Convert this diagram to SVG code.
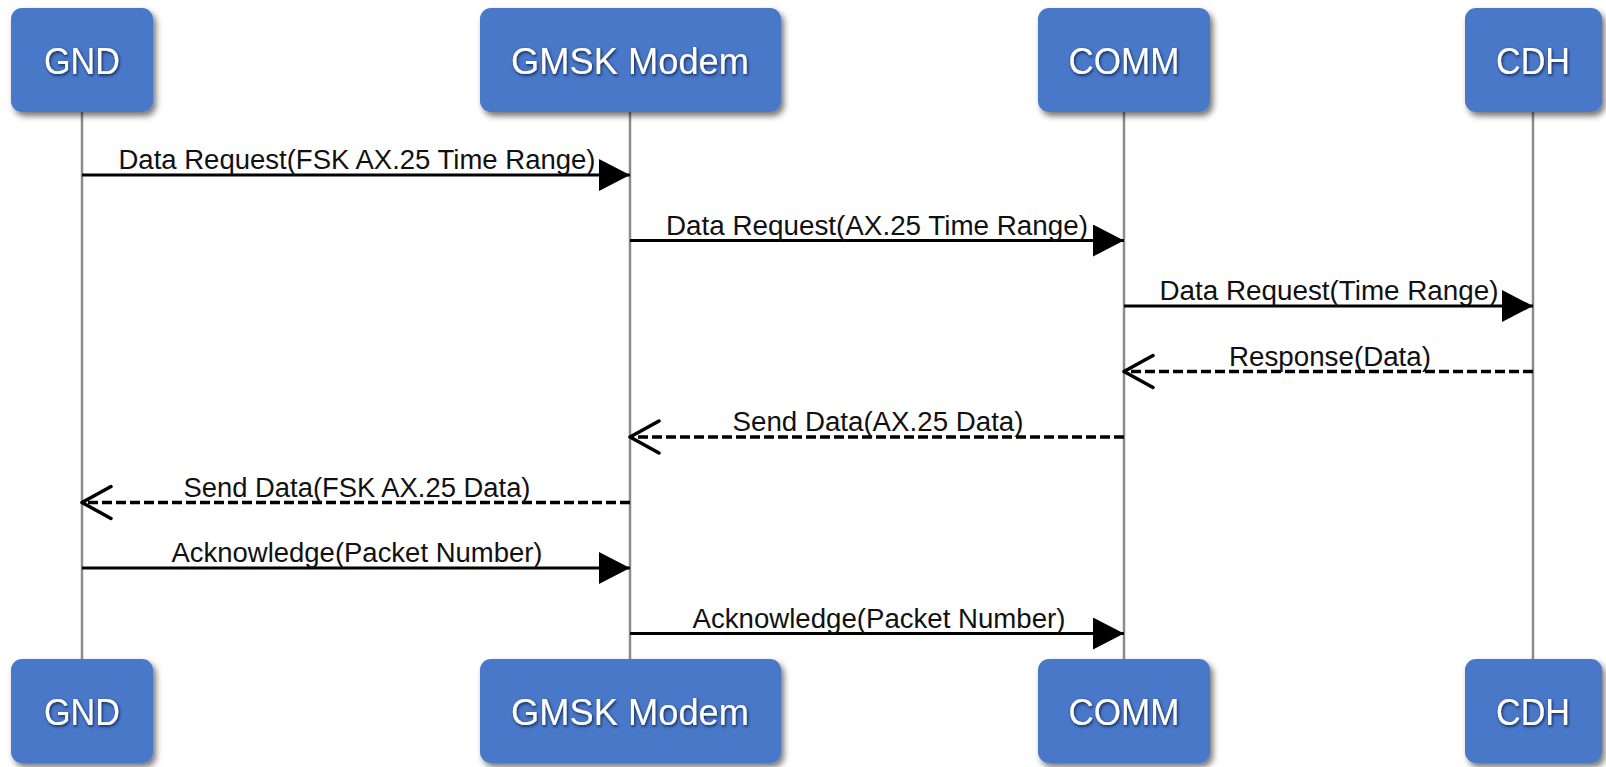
<svg xmlns="http://www.w3.org/2000/svg" width="1606" height="767" viewBox="0 0 1606 767">
  <style>
    .box { fill: #4a78c9; filter: url(#boxShadow); }
    .name { font-family: "Liberation Sans", Arial, sans-serif; font-size: 37px; fill: #ffffff; text-anchor: middle; filter: url(#textGlow); }
    .life { stroke: #8c8c8c; stroke-width: 2.5; fill: none; }
    .msg { stroke: #000000; stroke-width: 3; fill: none; }
    .sync { marker-end: url(#filledHead); }
    .reply { stroke-width: 3.5; stroke-dasharray: 10 4; marker-end: url(#openHead); }
    .label { font-family: "Liberation Sans", Arial, sans-serif; font-size: 27px; fill: #111111; text-anchor: middle; }
  </style>
  <defs>
    <filter id="boxShadow" x="-20%" y="-20%" width="150%" height="150%">
      <feDropShadow dx="3" dy="4" stdDeviation="3" flood-color="#000000" flood-opacity="0.55"/>
    </filter>
    <filter id="textGlow" x="-20%" y="-30%" width="140%" height="160%">
      <feDropShadow dx="1" dy="1.5" stdDeviation="1.5" flood-color="#0b1f4a" flood-opacity="0.95"/>
    </filter>
    <marker id="filledHead" markerUnits="userSpaceOnUse" markerWidth="32" markerHeight="34" refX="31" refY="16" orient="auto">
      <path d="M0,0 L31,16 L0,32 Z" fill="#000000" stroke="none"/>
    </marker>
    <marker id="openHead" markerUnits="userSpaceOnUse" markerWidth="36" markerHeight="40" refX="31" refY="18" orient="auto">
      <path d="M2,2 L31,18 L2,34" fill="none" stroke="#000000" stroke-width="3.5" stroke-dasharray="none" stroke-linejoin="round" stroke-linecap="round"/>
    </marker>
  </defs>

  <!-- lifelines -->
  <g id="lifelines">
    <line class="life" x1="82" y1="112" x2="82" y2="659"/>
    <line class="life" x1="630" y1="112" x2="630" y2="659"/>
    <line class="life" x1="1124" y1="112" x2="1124" y2="659"/>
    <line class="life" x1="1533" y1="112" x2="1533" y2="659"/>
  </g>

  <!-- participants, head and foot -->
  <g id="gnd">
    <rect class="box" x="11" y="8" width="142" height="104" rx="11"/>
    <text class="name" x="82" y="74" textLength="76" lengthAdjust="spacingAndGlyphs">GND</text>
    <rect class="box" x="11" y="659" width="142" height="104" rx="11"/>
    <text class="name" x="82" y="725" textLength="76" lengthAdjust="spacingAndGlyphs">GND</text>
  </g>
  <g id="gmsk-modem">
    <rect class="box" x="480" y="8" width="301" height="104" rx="11"/>
    <text class="name" x="630" y="74" textLength="238" lengthAdjust="spacingAndGlyphs">GMSK Modem</text>
    <rect class="box" x="480" y="659" width="301" height="104" rx="11"/>
    <text class="name" x="630" y="725" textLength="238" lengthAdjust="spacingAndGlyphs">GMSK Modem</text>
  </g>
  <g id="comm">
    <rect class="box" x="1038" y="8" width="172" height="104" rx="11"/>
    <text class="name" x="1124" y="74" textLength="111" lengthAdjust="spacingAndGlyphs">COMM</text>
    <rect class="box" x="1038" y="659" width="172" height="104" rx="11"/>
    <text class="name" x="1124" y="725" textLength="111" lengthAdjust="spacingAndGlyphs">COMM</text>
  </g>
  <g id="cdh">
    <rect class="box" x="1465" y="8" width="137" height="104" rx="11"/>
    <text class="name" x="1533" y="74" textLength="74" lengthAdjust="spacingAndGlyphs">CDH</text>
    <rect class="box" x="1465" y="659" width="137" height="104" rx="11"/>
    <text class="name" x="1533" y="725" textLength="74" lengthAdjust="spacingAndGlyphs">CDH</text>
  </g>

  <!-- messages -->
  <g id="connectors">
    <line class="msg sync" x1="82" y1="175" x2="630" y2="175"/>
    <text class="label" x="357" y="169" textLength="477" lengthAdjust="spacingAndGlyphs">Data Request(FSK AX.25 Time Range)</text>

    <line class="msg sync" x1="630" y1="240.5" x2="1124" y2="240.5"/>
    <text class="label" x="877" y="234.5" textLength="422" lengthAdjust="spacingAndGlyphs">Data Request(AX.25 Time Range)</text>

    <line class="msg sync" x1="1124" y1="306" x2="1533" y2="306"/>
    <text class="label" x="1329" y="300" textLength="339" lengthAdjust="spacingAndGlyphs">Data Request(Time Range)</text>

    <line class="msg reply" x1="1533" y1="371.5" x2="1124" y2="371.5"/>
    <text class="label" x="1330" y="365.5" textLength="202" lengthAdjust="spacingAndGlyphs">Response(Data)</text>

    <line class="msg reply" x1="1124" y1="437" x2="630" y2="437"/>
    <text class="label" x="878" y="431" textLength="291" lengthAdjust="spacingAndGlyphs">Send Data(AX.25 Data)</text>

    <line class="msg reply" x1="630" y1="502.5" x2="82" y2="502.5"/>
    <text class="label" x="357" y="496.5" textLength="347" lengthAdjust="spacingAndGlyphs">Send Data(FSK AX.25 Data)</text>

    <line class="msg sync" x1="82" y1="568" x2="630" y2="568"/>
    <text class="label" x="357" y="562" textLength="371" lengthAdjust="spacingAndGlyphs">Acknowledge(Packet Number)</text>

    <line class="msg sync" x1="630" y1="633.5" x2="1124" y2="633.5"/>
    <text class="label" x="879" y="627.5" textLength="373" lengthAdjust="spacingAndGlyphs">Acknowledge(Packet Number)</text>
  </g>
</svg>
